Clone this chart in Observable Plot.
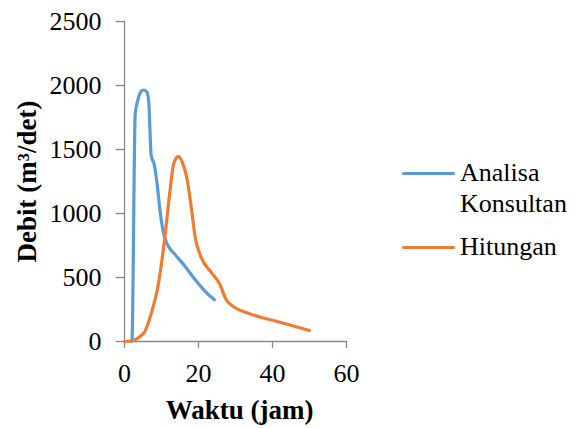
<!DOCTYPE html>
<html>
<head>
<meta charset="utf-8">
<script src="https://cdn.jsdelivr.net/npm/d3@7"></script>
<script src="https://cdn.jsdelivr.net/npm/@observablehq/plot@0.6"></script>
<style>
  html, body { margin: 0; padding: 0; background: #fff; }
  #wrap { position: relative; width: 583px; height: 428px; font-family: 'Liberation Serif', 'Times New Roman', serif; }
  #wrap svg { position: absolute; left: 0; top: 0; }
  #wrap svg text { font-family: 'Liberation Serif', 'Times New Roman', serif; }
  .lg-line { position: absolute; height: 3px; border-radius: 2px; }
  .lg-text { position: absolute; font-family: 'Liberation Serif', 'Times New Roman', serif; font-size: 26px; line-height: 31px; color: #000; white-space: nowrap; }
</style>
</head>
<body>
<div id="wrap"></div>
<script>
const seriesNames = ["Analisa Konsultan", "Hitungan"];
const seriesColors = ["#5B9BD5", "#ED7D31"];

const konsultanX = [1.8, 2.0, 2.9, 3.6, 4.5, 5.2, 6.1, 6.6, 6.85, 7.2, 8.1, 8.8, 9.7, 10.6, 11.5, 13.5, 16.2, 18.9, 21.6, 24.3];
const konsultanY = [0, 0, 1780, 1885, 1955, 1965, 1948, 1857, 1674, 1455, 1375, 1232, 998, 841, 763, 685, 594, 490, 398, 326];

const hitunganX = [0, 2.5, 4, 5.4, 7.2, 9, 10.8, 12.2, 13.3, 14.5, 15.8, 17.1, 18.1, 19.1, 20.7, 23.4, 25.7, 27.5, 29.7, 33.5, 42, 50];
const hitunganY = [0, 10, 35, 73, 216, 424, 789, 1154, 1388, 1445, 1388, 1240, 1035, 815, 659, 542, 451, 326, 268, 220, 151, 86];

const xTicks = [0, 20, 40, 60];
const yTicks = [0, 500, 1000, 1500, 2000, 2500];

const konsultan = konsultanX.map((x, i) => ({x, y: konsultanY[i]}));
const hitungan = hitunganX.map((x, i) => ({x, y: hitunganY[i]}));

const axisGray = "#888888";
const font = "'Liberation Serif', 'Times New Roman', serif";

const chart = Plot.plot({
  width: 583,
  height: 428,
  marginLeft: 124,
  marginRight: 237,
  marginTop: 21,
  marginBottom: 87,
  style: { fontFamily: font, fontSize: "26px", background: "transparent", color: "#000", overflow: "visible" },
  x: { domain: [0, 60], ticks: xTicks, label: null },
  y: { domain: [0, 2500], ticks: yTicks, label: null },
  marks: [
    Plot.ruleX([0], { stroke: axisGray, strokeWidth: 1.3 }),
    Plot.ruleY([0], { stroke: axisGray, strokeWidth: 1.3 }),
    Plot.axisX({ ticks: xTicks, tickFormat: d => String(d), tickSize: 7, tickPadding: 15, stroke: axisGray, strokeWidth: 1.3, fontSize: 26, fontFamily: font, label: null }),
    Plot.axisY({ ticks: yTicks, tickFormat: d => String(d), tickSize: 8, tickPadding: 15, stroke: axisGray, strokeWidth: 1.3, fontSize: 26, fontFamily: font, label: null }),
    Plot.line(konsultan, { x: "x", y: "y", stroke: seriesColors[0], strokeWidth: 3.2, curve: "monotone-x" }),
    Plot.line(hitungan, { x: "x", y: "y", stroke: seriesColors[1], strokeWidth: 3.2, curve: "monotone-x" }),
    Plot.text(["Waktu (jam)"], { frameAnchor: "bottom", dy: 77, dx: 4, text: d => d, fontWeight: "bold", fontSize: 27, fontFamily: font, lineAnchor: "bottom", textAnchor: "middle" }),
    Plot.text(["Debit (m³/det)"], { frameAnchor: "left", dx: -97, rotate: -90, text: d => d, fontWeight: "bold", fontSize: 27, fontFamily: font, lineAnchor: "middle", textAnchor: "middle" })
  ]
});

const wrap = document.getElementById("wrap");
wrap.appendChild(chart);

const legendItems = [
  { color: seriesColors[0], lines: ["Analisa", "Konsultan"], lineY: 172, textTop: 157 },
  { color: seriesColors[1], lines: ["Hitungan"], lineY: 246, textTop: 231 }
];
legendItems.forEach(item => {
  const ln = document.createElement("div");
  ln.className = "lg-line";
  ln.style.left = "402px";
  ln.style.width = "53px";
  ln.style.top = item.lineY + "px";
  ln.style.background = item.color;
  wrap.appendChild(ln);
  const tx = document.createElement("div");
  tx.className = "lg-text";
  tx.style.left = "460px";
  tx.style.top = item.textTop + "px";
  tx.innerHTML = item.lines.join("<br>");
  wrap.appendChild(tx);
});
</script>
</body>
</html>
